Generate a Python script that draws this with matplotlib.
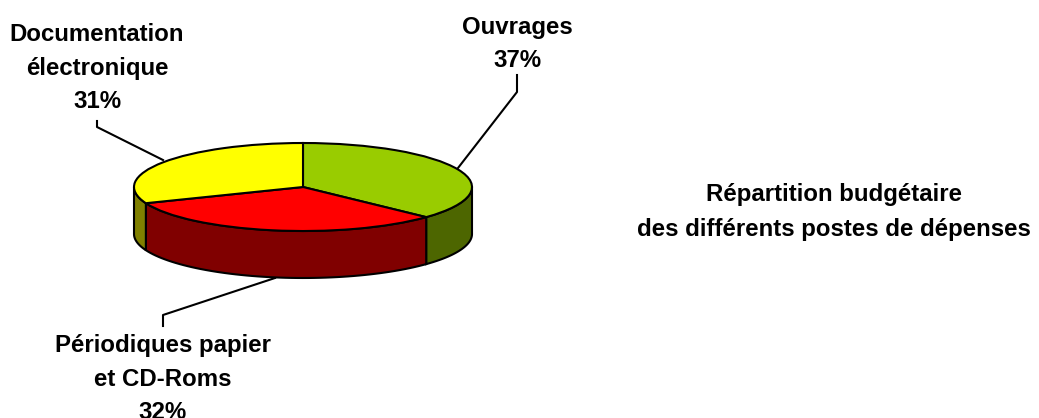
import numpy as np
import matplotlib
matplotlib.use("Agg")
import matplotlib.pyplot as plt

# Budget shares
labels = ['Ouvrages\n37%', 'Périodiques papier\net CD-Roms\n32%', 'Documentation\nélectronique\n31%']
values = [37, 32, 31]
top_colors = ['#99CC00', '#FF0000', '#FFFF00']
side_colors = ['#4D6600', '#800000', '#808000']
title = 'Répartition budgétaire\ndes différents postes de dépenses'

W, H = 1039, 418
plt.rcParams['font.family'] = ['Liberation Sans', 'DejaVu Sans']
fig = plt.figure(figsize=(W / 100, H / 100), dpi=100, facecolor='white')

# overlay in pixel coords for text and leader lines
bg = fig.add_axes([0, 0, 1, 1])
bg.set_xlim(0, W)
bg.set_ylim(H, 0)
bg.axis('off')

# flattened pie: unit circle squeezed by the axes box
cx, cy, rx, ry, depth = 303, 187, 169, 44, 47
ax = fig.add_axes([(cx - rx) / W, 1 - (cy + ry) / H, 2 * rx / W, 2 * ry / H])
ax.pie(values, colors=top_colors, startangle=90, counterclock=False, radius=1,
       wedgeprops=dict(edgecolor='black', linewidth=1.5, zorder=3))
ax.set_aspect('auto')
ax.set_xlim(-1, 1)
ax.set_ylim(-1, 1)
ax.patch.set_alpha(0)
d = depth / ry

# side walls, only the front half of the rim shows
angle = 90.0
for v, c in zip(values, side_colors):
    end = angle - v * 3.6
    lo, hi = max(end, -180), min(angle, 0)
    if hi > lo:
        t = np.radians(np.linspace(hi, lo, 60))
        xs = np.concatenate([np.cos(t), np.cos(t[::-1])])
        ys = np.concatenate([np.sin(t), np.sin(t[::-1]) - d])
        ax.fill(xs, ys, facecolor=c, edgecolor='black', linewidth=1.5, clip_on=False, zorder=2)
    angle = end

# leader lines
bg.plot([517, 517, 458], [75, 92, 168], color='black', lw=1.5)
bg.plot([97, 97, 163], [121, 127, 160], color='black', lw=1.5)
bg.plot([163, 163, 275], [326, 315, 278], color='black', lw=1.5)

txt = dict(ha='center', va='center', fontsize=17.3, fontweight='bold', linespacing=1.58)
bg.text(517, 44, labels[0], **txt)
bg.text(163, 379, labels[1], **txt)
bg.text(97, 68, labels[2], **txt)
bg.text(834, 212, title, **{**txt, 'linespacing': 1.72})

fig.savefig('out.png', dpi=100)
